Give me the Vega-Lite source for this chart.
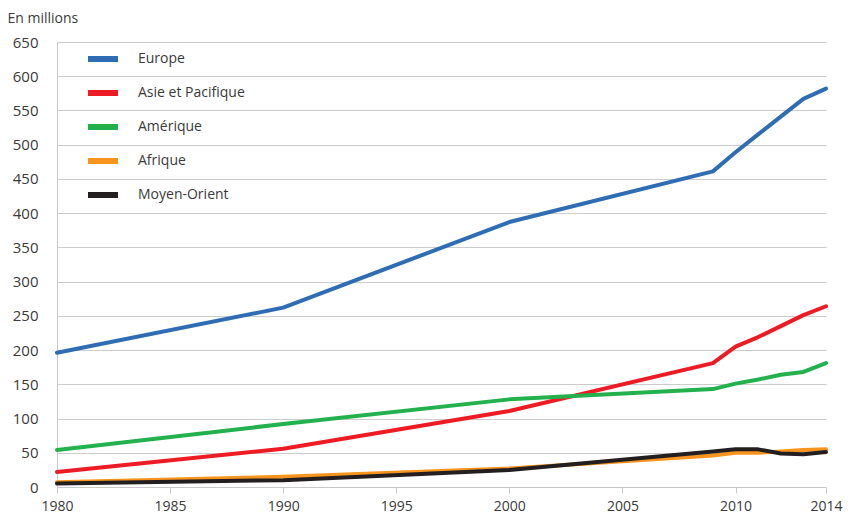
{
  "$schema": "https://vega.github.io/schema/vega-lite/v6.json",
  "width": 769,
  "height": 445,
  "autosize": {"type": "none"},
  "padding": {"left": 57, "top": 42, "right": 22, "bottom": 34},
  "background": "white",
  "config": {
    "view": {"stroke": null},
    "font": "Open Sans",
    "axis": {"labelFont": "Open Sans", "labelColor": "#3a3a3a", "labelFontSize": 14, "titleFont": "Open Sans"},
    "legend": {"labelFont": "Open Sans"}
  },
  "data": {
    "values": [
      {"region": "Europe", "year": 1980, "value": 196},
      {"region": "Europe", "year": 1990, "value": 262},
      {"region": "Europe", "year": 2000, "value": 387},
      {"region": "Europe", "year": 2009, "value": 461},
      {"region": "Europe", "year": 2010, "value": 489},
      {"region": "Europe", "year": 2011, "value": 515},
      {"region": "Europe", "year": 2012, "value": 541},
      {"region": "Europe", "year": 2013, "value": 567},
      {"region": "Europe", "year": 2014, "value": 582},
      {"region": "Asie et Pacifique", "year": 1980, "value": 22},
      {"region": "Asie et Pacifique", "year": 1990, "value": 56},
      {"region": "Asie et Pacifique", "year": 2000, "value": 111},
      {"region": "Asie et Pacifique", "year": 2009, "value": 181},
      {"region": "Asie et Pacifique", "year": 2010, "value": 205},
      {"region": "Asie et Pacifique", "year": 2011, "value": 219},
      {"region": "Asie et Pacifique", "year": 2012, "value": 235},
      {"region": "Asie et Pacifique", "year": 2013, "value": 251},
      {"region": "Asie et Pacifique", "year": 2014, "value": 264},
      {"region": "Amérique", "year": 1980, "value": 54},
      {"region": "Amérique", "year": 1990, "value": 92},
      {"region": "Amérique", "year": 2000, "value": 128},
      {"region": "Amérique", "year": 2009, "value": 143},
      {"region": "Amérique", "year": 2010, "value": 151},
      {"region": "Amérique", "year": 2011, "value": 157},
      {"region": "Amérique", "year": 2012, "value": 164},
      {"region": "Amérique", "year": 2013, "value": 168},
      {"region": "Amérique", "year": 2014, "value": 181},
      {"region": "Afrique", "year": 1980, "value": 7},
      {"region": "Afrique", "year": 1990, "value": 15},
      {"region": "Afrique", "year": 2000, "value": 27},
      {"region": "Afrique", "year": 2009, "value": 46},
      {"region": "Afrique", "year": 2010, "value": 50},
      {"region": "Afrique", "year": 2011, "value": 50},
      {"region": "Afrique", "year": 2012, "value": 52},
      {"region": "Afrique", "year": 2013, "value": 54},
      {"region": "Afrique", "year": 2014, "value": 55},
      {"region": "Moyen-Orient", "year": 1980, "value": 5},
      {"region": "Moyen-Orient", "year": 1990, "value": 10},
      {"region": "Moyen-Orient", "year": 2000, "value": 25},
      {"region": "Moyen-Orient", "year": 2009, "value": 52},
      {"region": "Moyen-Orient", "year": 2010, "value": 55},
      {"region": "Moyen-Orient", "year": 2011, "value": 55},
      {"region": "Moyen-Orient", "year": 2012, "value": 49},
      {"region": "Moyen-Orient", "year": 2013, "value": 48},
      {"region": "Moyen-Orient", "year": 2014, "value": 51}
    ]
  },
  "mark": {"type": "line", "strokeWidth": 4, "strokeCap": "round", "strokeJoin": "round"},
  "encoding": {
    "x": {
      "field": "year", "type": "quantitative",
      "scale": {"domain": [1980, 2014], "nice": false, "zero": false},
      "axis": {
        "title": null, "values": [1980, 1985, 1990, 1995, 2000, 2005, 2010, 2014],
        "format": "d", "grid": false, "domainColor": "#c8c8c8", "tickColor": "#c8c8c8",
        "tickSize": 6, "labelPadding": 6, "labelFlush": false
      }
    },
    "y": {
      "field": "value", "type": "quantitative",
      "scale": {"domain": [0, 650], "nice": false},
      "axis": {
        "title": "En millions", "titleAngle": 0, "titleAlign": "left", "titleBaseline": "alphabetic",
        "titleX": -50, "titleY": -20, "titleFontSize": 14, "titleFontWeight": "normal", "titleColor": "#3a3a3a",
        "values": [0, 50, 100, 150, 200, 250, 300, 350, 400, 450, 500, 550, 600, 650],
        "grid": true, "gridColor": "#cccccc", "domainColor": "#c8c8c8", "ticks": false,
        "labelPadding": 19, "labelFontSize": 15
      }
    },
    "color": {
      "field": "region", "type": "nominal",
      "scale": {
        "domain": ["Europe", "Asie et Pacifique", "Amérique", "Afrique", "Moyen-Orient"],
        "range": ["#2E6DB4", "#ED1C24", "#22B14C", "#F7941D", "#231F20"]
      },
      "legend": {
        "title": null, "orient": "none", "legendX": 28, "legendY": -1,
        "symbolType": "stroke", "symbolSize": 900, "symbolStrokeWidth": 6,
        "labelFontSize": 14, "labelColor": "#3a3a3a", "labelOffset": 17, "rowPadding": 4
      }
    }
  }
}
